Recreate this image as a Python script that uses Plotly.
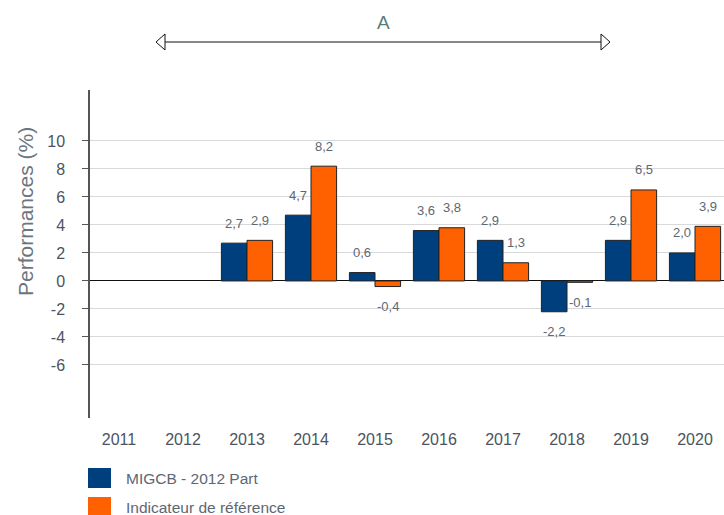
import plotly.graph_objects as go

years = ["2011", "2012", "2013", "2014", "2015", "2016", "2017", "2018", "2019", "2020"]
migcb = [None, None, 2.7, 4.7, 0.6, 3.6, 2.9, -2.2, 2.9, 2.0]
indicateur = [None, None, 2.9, 8.2, -0.4, 3.8, 1.3, -0.1, 6.5, 3.9]
series_names = ["MIGCB - 2012 Part", "Indicateur de référence"]
y_tickvals = [-6, -4, -2, 0, 2, 4, 6, 8, 10]
y_ticktext = ["-6", "-4", "-2", "0", "2", "4", "6", "8", "10"]
arrow_label = "A"

BLUE = "#003f7e"
ORANGE = "#ff6100"
LABEL_COLOR = "#5d6773"
TICK_COLOR = "#4b5461"
FONT = "Arial, Liberation Sans, sans-serif"

W, H = 724, 515
L, R, T, B = 90, 0, 90, 97
PW, PH = W - L - R, H - T - B


def px(x):
    return (x - L) / PW


def py(y):
    return (H - B - y) / PH


fig = go.Figure()
for name, vals, col in [(series_names[0], migcb, BLUE), (series_names[1], indicateur, ORANGE)]:
    fig.add_trace(go.Bar(
        x=years, y=vals, name=name, marker=dict(color=col, line=dict(color="#222222", width=1)),
        showlegend=False, hoverinfo="skip"))

annotations = []
for vals, shift in [(migcb, -12.8), (indicateur, 12.8)]:
    for i, v in enumerate(vals):
        if v is None:
            continue
        annotations.append(dict(
            x=i, y=v, xref="x", yref="y", text=f"{v:.1f}".replace(".", ","),
            showarrow=False, xshift=shift, yshift=20 if v >= 0 else -20,
            xanchor="center", yanchor="middle",
            font=dict(family=FONT, size=13, color=LABEL_COLOR)))

# y-axis title
annotations.append(dict(
    x=px(25), y=py(212), xref="paper", yref="paper", text="Performances (%)",
    textangle=-90, showarrow=False, xanchor="center", yanchor="middle",
    font=dict(family=FONT, size=21, color="#6b7581")))

# arrow label
annotations.append(dict(
    x=px(383), y=py(22), xref="paper", yref="paper", text=arrow_label,
    showarrow=False, xanchor="center", yanchor="middle",
    font=dict(family=FONT, size=19, color="#5a7d76")))

shapes = []
# arrow line and heads
shapes.append(dict(type="line", xref="paper", yref="paper",
                   x0=px(158), x1=px(608), y0=py(42), y1=py(42),
                   line=dict(color="#111111", width=1.2)))
shapes.append(dict(type="path", xref="paper", yref="paper",
                   path=f"M {px(156)} {py(42)} L {px(165)} {py(34)} L {px(165)} {py(50)} Z",
                   fillcolor="white", line=dict(color="#111111", width=1)))
shapes.append(dict(type="path", xref="paper", yref="paper",
                   path=f"M {px(610)} {py(42)} L {px(601)} {py(34)} L {px(601)} {py(50)} Z",
                   fillcolor="white", line=dict(color="#111111", width=1)))

# legend
for i, (name, col) in enumerate(zip(series_names, [BLUE, ORANGE])):
    yc = 478 + i * 29
    shapes.append(dict(type="rect", xref="paper", yref="paper",
                       x0=px(88), x1=px(111), y0=py(yc - 10), y1=py(yc + 10),
                       fillcolor=col, line=dict(width=0)))
    annotations.append(dict(
        x=px(124), y=py(yc), xref="paper", yref="paper", text=name, showarrow=False,
        xanchor="left", yanchor="middle", font=dict(family=FONT, size=15.5, color="#5d6773")))

fig.update_layout(
    width=W, height=H, margin=dict(l=L, r=R, t=T, b=B),
    paper_bgcolor="white", plot_bgcolor="white",
    barmode="group", bargap=0.2, bargroupgap=0,
    annotations=annotations, shapes=shapes,
    font=dict(family=FONT),
)
fig.update_xaxes(
    type="category", range=[-0.453, 9.453], showgrid=False, showline=False, ticks="",
    tickfont=dict(family=FONT, size=16, color=TICK_COLOR), ticklabelstandoff=10,
    fixedrange=True)
fig.update_yaxes(
    range=[-9.79, 13.64], tickvals=y_tickvals, ticktext=y_ticktext,
    showgrid=True, gridcolor="#d9d9d9", gridwidth=1,
    zeroline=True, zerolinecolor="#111111", zerolinewidth=1.2,
    showline=True, linecolor="#555555", linewidth=1.5,
    ticks="outside", ticklen=20, tickcolor="rgba(0,0,0,0)",
    minor=dict(tickvals=y_tickvals, ticks="outside", ticklen=6, tickcolor="#555555", showgrid=False),
    tickfont=dict(family=FONT, size=16, color=TICK_COLOR),
    fixedrange=True)

fig.write_html("out.html", config={"displayModeBar": False},
               post_script="document.body.style.margin='0';document.body.style.padding='0';")
